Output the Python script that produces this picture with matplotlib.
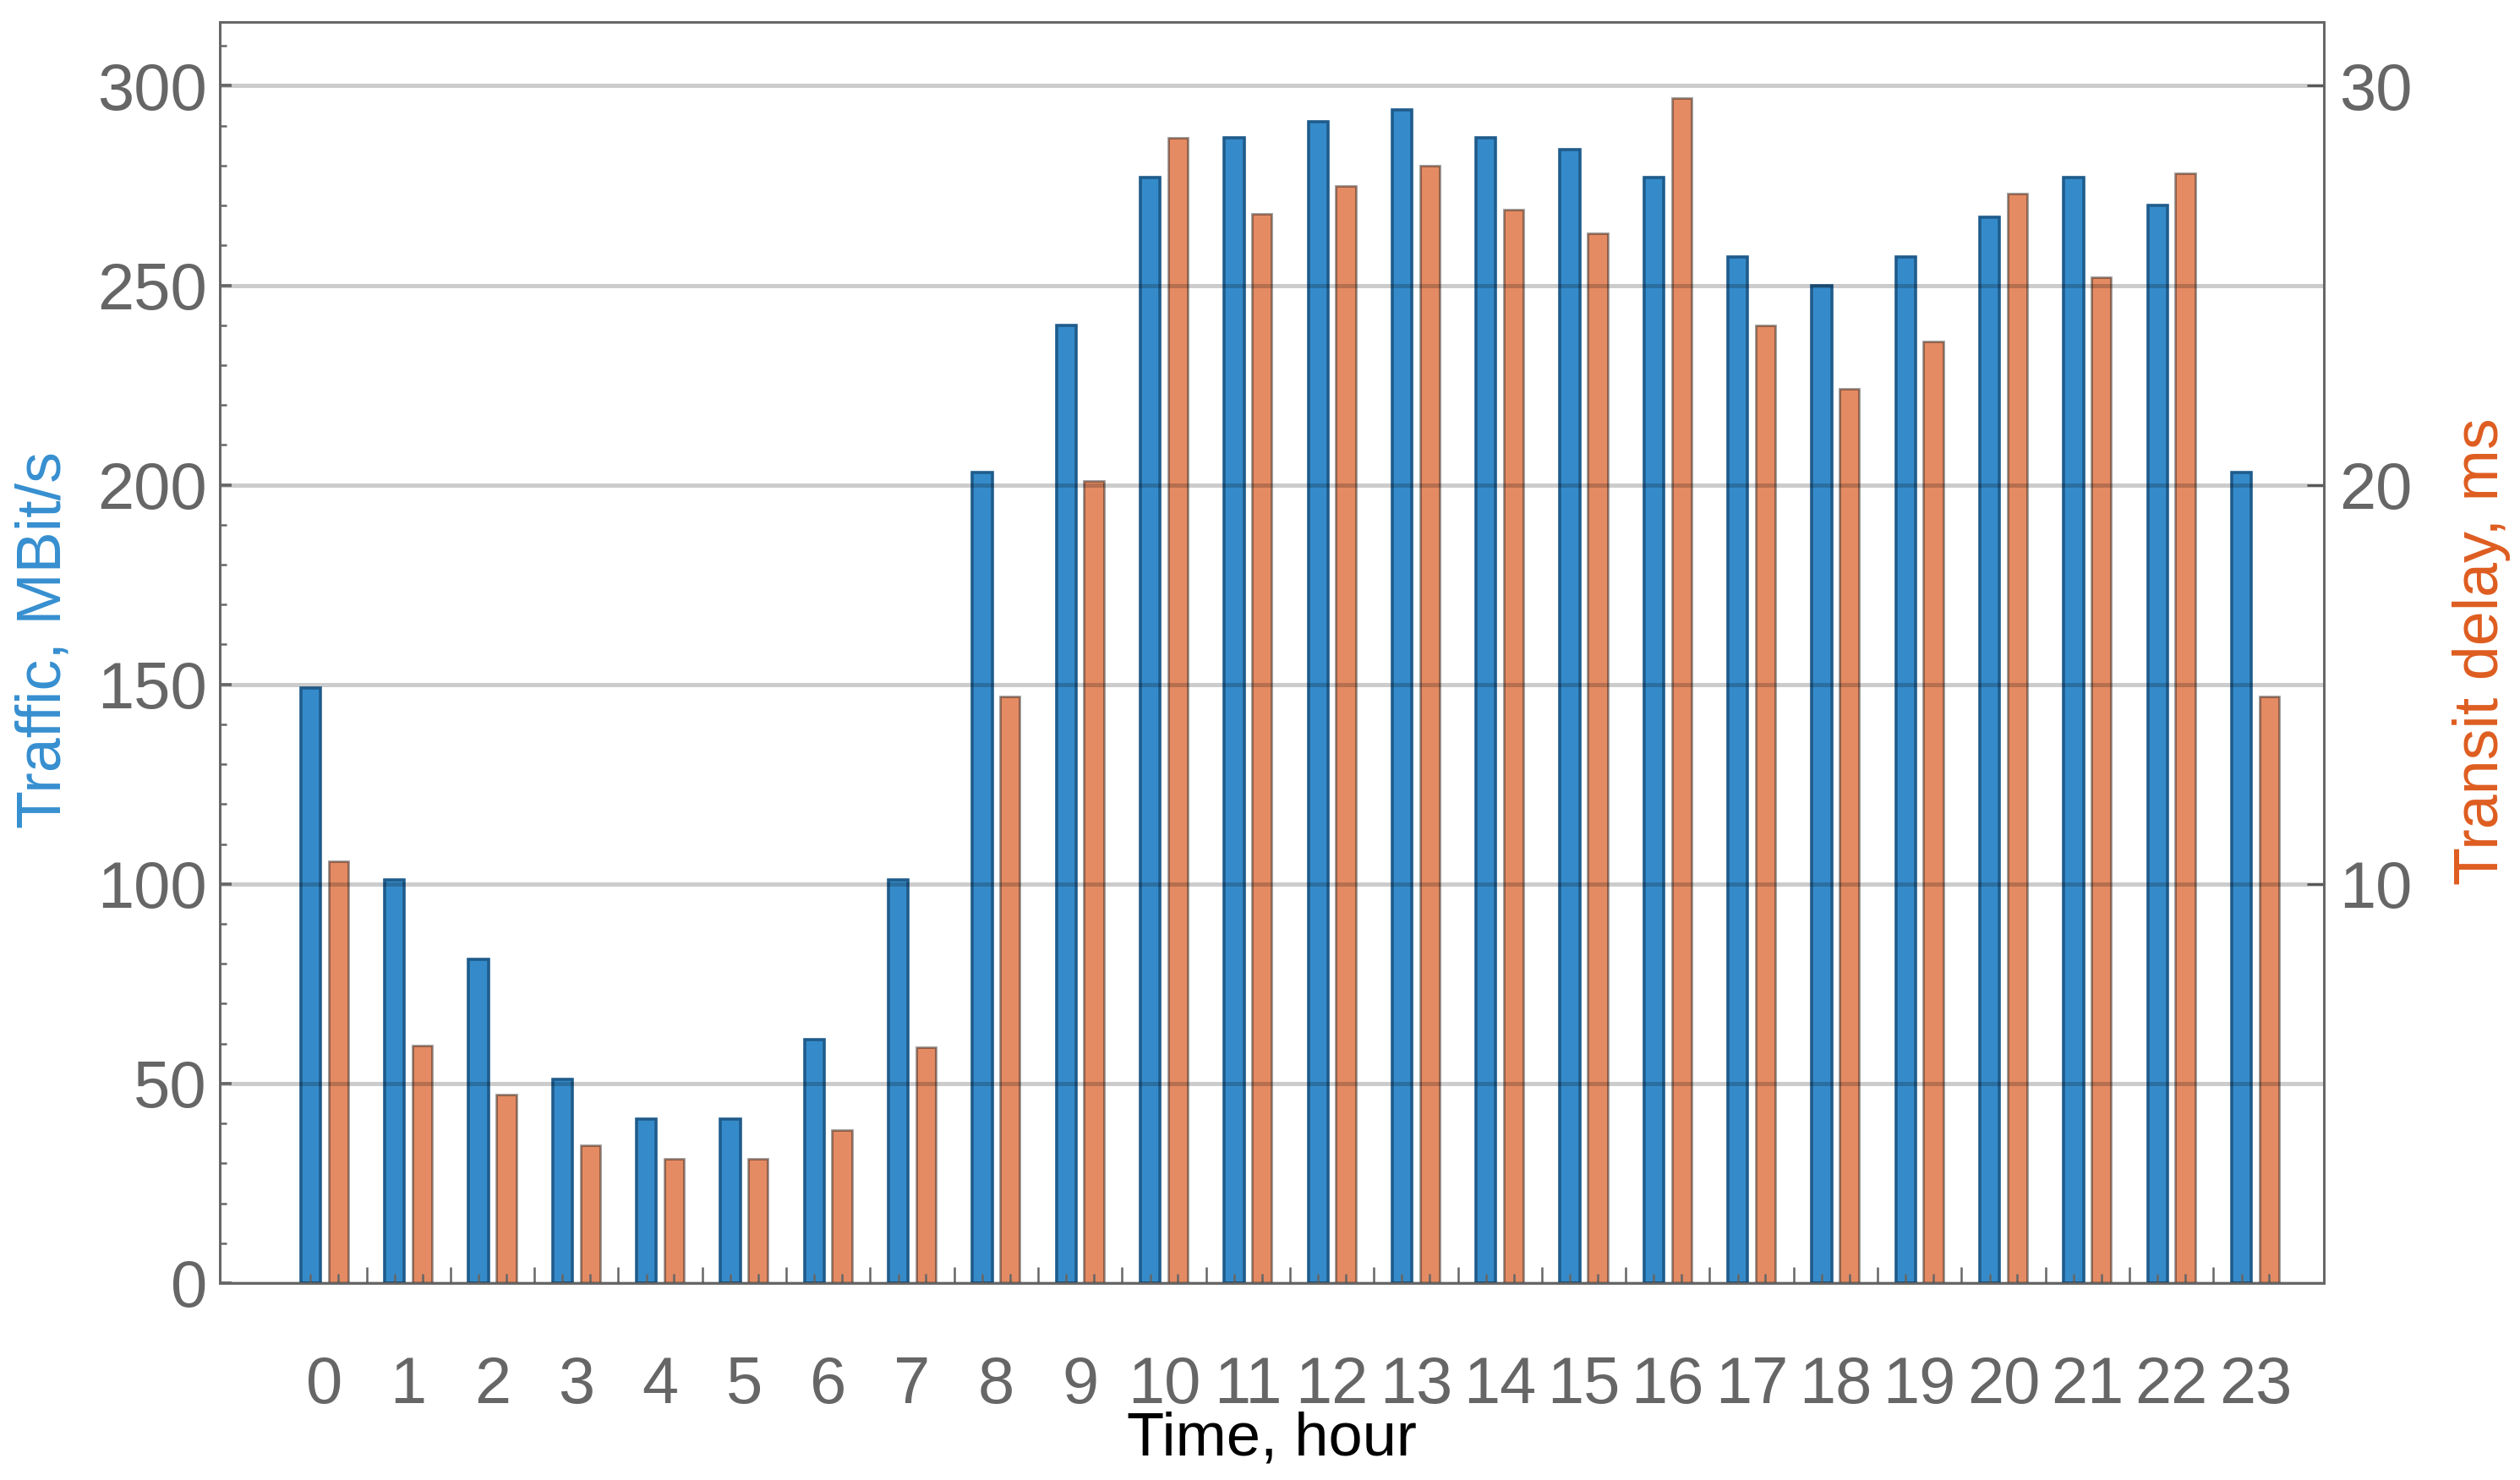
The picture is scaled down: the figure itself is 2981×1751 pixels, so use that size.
import numpy as np
import matplotlib.pyplot as plt
from matplotlib.ticker import MultipleLocator

hours = list(range(24))
traffic = [149, 101, 81, 51, 41, 41, 61, 101, 203, 240, 277, 287,
           291, 294, 287, 284, 277, 257, 250, 257, 267, 277, 270, 203]
delay = [10.56, 5.94, 4.73, 3.46, 3.12, 3.12, 3.84, 5.9, 14.7, 20.1, 28.7, 26.8,
         27.5, 28.0, 26.9, 26.3, 29.7, 24.0, 22.4, 23.6, 27.3, 25.2, 27.8, 14.7]

plt.rcParams['font.family'] = ['Liberation Sans', 'DejaVu Sans']
gray = '#666666'

fig = plt.figure(figsize=(14.905, 8.755), dpi=200)
ax = fig.add_axes([0.0872, 0.1331, 0.8351, 0.8521])
ax2 = ax.twinx()
# left axes on top so its grid and ticks overlay the orange bars too
ax.set_zorder(ax2.get_zorder() + 1)
ax.patch.set_visible(False)

x = np.arange(len(hours))
w = 0.235
off = 0.165
ax.bar(x - off, traffic, w, color='#358BCA', edgecolor='#1F5C8C', linewidth=1.3)
ax2.bar(x + off, delay, w, color='#E48B63', edgecolor=(0, 0, 0, 0.4), linewidth=1.0)

ax.set_xlim(-1.248, 23.82)
ax.set_ylim(0, 316)
ax2.set_ylim(0, 31.6)

# left axis
ax.yaxis.set_major_locator(MultipleLocator(50))
ax.yaxis.set_minor_locator(MultipleLocator(10))
ax.tick_params(axis='y', which='major', direction='in', length=5, width=1.3,
               color=gray, labelcolor=gray, labelsize=28, pad=5.4)
ax.tick_params(axis='y', which='minor', direction='in', length=2.9, width=0.9, color=gray)
ax.grid(axis='y', which='major', color='black', alpha=0.2, linewidth=1.8)

# x axis: group separators + bar centre ticks, labels on a secondary axis
ax.set_xticks(x[:-1] + 0.5)
ax.set_xticks(np.concatenate([x - off, x + off]), minor=True)
ax.tick_params(axis='x', which='major', direction='in', length=6.8, width=0.9,
               color=gray, labelbottom=False)
ax.tick_params(axis='x', which='minor', direction='in', length=3.8, width=0.9, color=gray)

sec = ax.secondary_xaxis('bottom')
sec.set_xticks(x, labels=[str(h) for h in hours])
sec.tick_params(length=0, labelsize=28, labelcolor=gray, pad=30.6)
sec.spines['bottom'].set_visible(False)

# right axis
ax2.set_yticks([10, 20, 30])
ax2.tick_params(axis='y', direction='in', length=7.2, width=1.0,
                color=gray, labelcolor=gray, labelsize=28, pad=6.5)

for a in (ax, ax2):
    for s in a.spines.values():
        s.set_color(gray)
        s.set_linewidth(1.0)

ax.text(-0.0837, 0.51, 'Traffic, MBit/s', transform=ax.transAxes, rotation=90,
        ha='center', va='center', color='#368FD0', fontsize=26.5)
ax.text(1.0747, 0.501, 'Transit delay, ms', transform=ax.transAxes, rotation=90,
        ha='center', va='center', color='#DE5D20', fontsize=26.5)
ax.text(0.5, -0.124, 'Time, hour', transform=ax.transAxes,
        ha='center', va='center', color='black', fontsize=26)

fig.savefig('out.png', dpi=200)
